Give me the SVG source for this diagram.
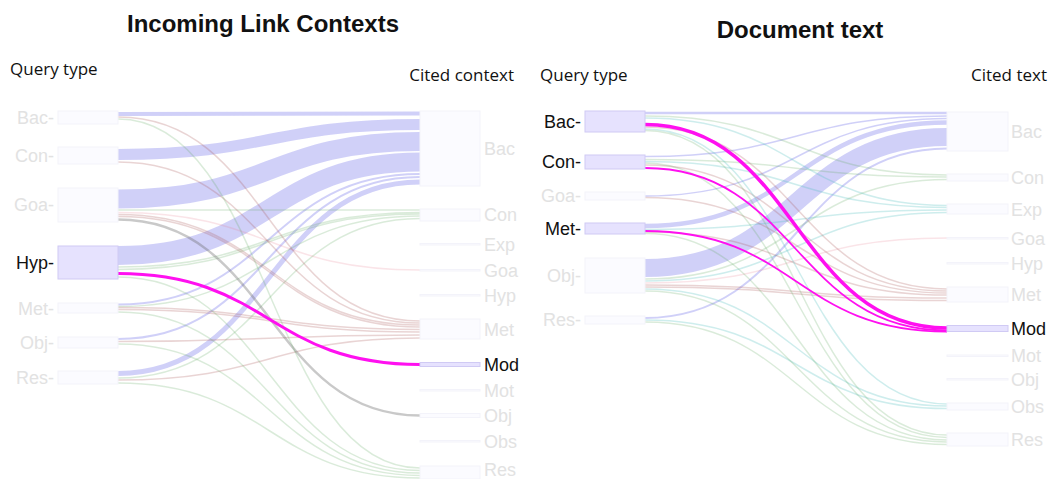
<svg xmlns="http://www.w3.org/2000/svg" width="1048" height="479" viewBox="0 0 1048 479">
<style>
.title{font-family:"Liberation Sans",Arial,sans-serif;font-weight:bold;font-size:24px;fill:#111;text-anchor:middle}
.axis{font-family:"Open Sans","Liberation Sans",sans-serif;font-size:17px;fill:#111}
.lbl{font-family:"Liberation Sans",Arial,sans-serif;font-size:18px;fill:#e2e2e2}
.on{fill:#111}
.nf{fill:#fbfbff;stroke:#f3f3fa;stroke-width:1}
.nh{fill:#e6e2fe;stroke:#d0caf4;stroke-width:1}
.f{fill:none}
.b{stroke:rgba(150,150,240,0.45)}
.g{stroke:rgba(100,170,100,0.24);stroke-width:1.5}
.r{stroke:rgba(170,90,90,0.26);stroke-width:1.5}
.p{stroke:rgba(230,120,140,0.2);stroke-width:1.5}
.t{stroke:rgba(80,190,190,0.28);stroke-width:1.5}
.k{stroke:rgba(100,100,100,0.35);stroke-width:2.5}
.m{stroke:#ff10f0}
</style>
<rect width="1048" height="479" fill="#fff"/>
<text class="title" x="263" y="32">Incoming Link Contexts</text>
<text class="title" x="800" y="38">Document text</text>
<text class="axis" x="10" y="75">Query type</text>
<text class="axis" x="514" y="81" text-anchor="end">Cited context</text>
<text class="axis" x="540" y="81">Query type</text>
<text class="axis" x="1047" y="81" text-anchor="end">Cited text</text>

<g id="connectors">
<!-- left panel -->
<g class="f">
<path class="b" stroke-width="4" d="M118,114 C269,114 269,113.5 420,113.5"/>
<path class="b" stroke-width="11" d="M118,154.5 C269,154.5 269,124.5 420,124.5"/>
<path class="b" stroke-width="19" d="M118,199 C269,199 269,141.5 420,141.5"/>
<path class="b" stroke-width="19" d="M118,255.5 C269,255.5 269,162 420,162"/>
<path class="b" stroke-width="2" d="M118,304.5 C269,304.5 269,174 420,174"/>
<path class="b" stroke-width="2" d="M118,339 C269,339 269,177 420,177"/>
<path class="b" stroke-width="5" d="M118,373.5 C269,373.5 269,182 420,182"/>
<path class="g" d="M118,210 C269,210 269,210 420,210"/>
<path class="g" d="M118,267 C269,267 269,212.5 420,212.5"/>
<path class="g" d="M118,269.5 C269,269.5 269,214 420,214"/>
<path class="g" d="M118,306.5 C269,306.5 269,216 420,216"/>
<path class="g" d="M118,378 C269,378 269,218.5 420,218.5"/>
<path class="p" d="M118,212.5 C269,212.5 269,270 420,270"/>
<path class="r" d="M118,117 C269,117 269,321 420,321"/>
<path class="r" d="M118,162 C269,162 269,323 420,323"/>
<path class="r" d="M118,214.5 C269,214.5 269,325 420,325"/>
<path class="r" d="M118,216.5 C269,216.5 269,327 420,327"/>
<path class="r" d="M118,307.5 C269,307.5 269,329.5 420,329.5"/>
<path class="r" d="M118,309.5 C269,309.5 269,332 420,332"/>
<path class="r" d="M118,341.5 C269,341.5 269,335 420,335"/>
<path class="r" d="M118,380 C269,380 269,338 420,338"/>
<path class="k" d="M118,219.5 C269,219.5 269,415.5 420,415.5"/>
<path class="g" d="M118,119 C269,119 269,468 420,468"/>
<path class="g" d="M118,277 C269,277 269,470.5 420,470.5"/>
<path class="g" d="M118,312 C269,312 269,473 420,473"/>
<path class="g" d="M118,344 C269,344 269,475.5 420,475.5"/>
<path class="g" d="M118,383 C269,383 269,478 420,478"/>
<path class="m" stroke-width="3" d="M118,273.5 C269,273.5 269,364.5 420,364.5"/>
</g>
<!-- right panel -->
<g class="f">
<path class="b" stroke-width="2.5" d="M645,113 C796,113 796,113 947,113"/>
<path class="b" stroke-width="1.5" d="M645,156.5 C796,156.5 796,116 947,116"/>
<path class="b" stroke-width="1.5" d="M645,196 C796,196 796,118.5 947,118.5"/>
<path class="b" stroke-width="4.5" d="M645,226 C796,226 796,122.5 947,122.5"/>
<path class="b" stroke-width="18" d="M645,268 C796,268 796,137 947,137"/>
<path class="b" stroke-width="2" d="M645,318 C796,318 796,148.5 947,148.5"/>
<path class="g" d="M645,116 C796,116 796,175 947,175"/>
<path class="g" d="M645,159.5 C796,159.5 796,177 947,177"/>
<path class="g" d="M645,279 C796,279 796,179.5 947,179.5"/>
<path class="t" d="M645,118 C796,118 796,205.5 947,205.5"/>
<path class="t" d="M645,161.5 C796,161.5 796,207.5 947,207.5"/>
<path class="t" d="M645,229.5 C796,229.5 796,210 947,210"/>
<path class="t" d="M645,281 C796,281 796,212.5 947,212.5"/>
<path class="p" d="M645,283 C796,283 796,238 947,238"/>
<path class="r" d="M645,127 C796,127 796,289 947,289"/>
<path class="r" d="M645,165 C796,165 796,291 947,291"/>
<path class="r" d="M645,197.5 C796,197.5 796,293 947,293"/>
<path class="r" d="M645,232 C796,232 796,295 947,295"/>
<path class="r" d="M645,285 C796,285 796,298 947,298"/>
<path class="r" d="M645,287 C796,287 796,300.5 947,300.5"/>
<path class="t" d="M645,129 C796,129 796,404 947,404"/>
<path class="t" d="M645,289 C796,289 796,406 947,406"/>
<path class="t" d="M645,320 C796,320 796,408.5 947,408.5"/>
<path class="g" d="M645,130.5 C796,130.5 796,435 947,435"/>
<path class="g" d="M645,163 C796,163 796,437.5 947,437.5"/>
<path class="g" d="M645,233.5 C796,233.5 796,440 947,440"/>
<path class="g" d="M645,291 C796,291 796,442 947,442"/>
<path class="g" d="M645,322 C796,322 796,444.5 947,444.5"/>
<path class="m" stroke-width="3.5" d="M645,124.5 C796,124.5 796,328 947,328"/>
<path class="m" stroke-width="1.8" d="M645,168 C796,168 796,330.5 947,330.5"/>
<path class="m" stroke-width="1.8" d="M645,231 C796,231 796,331.5 947,331.5"/>
</g>
</g>

<!-- left panel, left column -->
<g id="L-Bac"><rect class="nf" x="58" y="111" width="60" height="13"/><text class="lbl" x="54" y="124" text-anchor="end">Bac-</text></g>
<g id="L-Con"><rect class="nf" x="58" y="147" width="60" height="17"/><text class="lbl" x="54" y="162" text-anchor="end">Con-</text></g>
<g id="L-Goa"><rect class="nf" x="58" y="188" width="60" height="34"/><text class="lbl" x="54" y="211" text-anchor="end">Goa-</text></g>
<g id="L-Hyp"><rect class="nh" x="58" y="246" width="60" height="33"/><text class="lbl on" x="54" y="269" text-anchor="end">Hyp-</text></g>
<g id="L-Met"><rect class="nf" x="58" y="303" width="60" height="10"/><text class="lbl" x="54" y="315" text-anchor="end">Met-</text></g>
<g id="L-Obj"><rect class="nf" x="58" y="337" width="60" height="11"/><text class="lbl" x="54" y="349" text-anchor="end">Obj-</text></g>
<g id="L-Res"><rect class="nf" x="58" y="371" width="60" height="13"/><text class="lbl" x="54" y="384" text-anchor="end">Res-</text></g>
<!-- left panel, right column -->
<g id="LC-Bac"><rect class="nf" x="420" y="111" width="60" height="75"/><text class="lbl" x="484" y="155">Bac</text></g>
<g id="LC-Con"><rect class="nf" x="420" y="209" width="60" height="12"/><text class="lbl" x="484" y="221">Con</text></g>
<g id="LC-Exp"><rect class="nf" x="420" y="243.5" width="60" height="1.5"/><text class="lbl" x="484" y="251">Exp</text></g>
<g id="LC-Goa"><rect class="nf" x="420" y="269.5" width="60" height="1.5"/><text class="lbl" x="484" y="277">Goa</text></g>
<g id="LC-Hyp"><rect class="nf" x="420" y="294.5" width="60" height="1.5"/><text class="lbl" x="484" y="302">Hyp</text></g>
<g id="LC-Met"><rect class="nf" x="420" y="319" width="60" height="20"/><text class="lbl" x="484" y="336">Met</text></g>
<g id="LC-Mod"><rect class="nh" x="420" y="362.5" width="60" height="4"/><text class="lbl on" x="484" y="371">Mod</text></g>
<g id="LC-Mot"><rect class="nf" x="420" y="389.5" width="60" height="1.5"/><text class="lbl" x="484" y="397">Mot</text></g>
<g id="LC-Obj"><rect class="nf" x="420" y="413.5" width="60" height="4"/><text class="lbl" x="484" y="422">Obj</text></g>
<g id="LC-Obs"><rect class="nf" x="420" y="440.5" width="60" height="1.5"/><text class="lbl" x="484" y="448">Obs</text></g>
<g id="LC-Res"><rect class="nf" x="420" y="466" width="60" height="13"/><text class="lbl" x="484" y="476">Res</text></g>

<!-- right panel, left column -->
<g id="R-Bac"><rect class="nh" x="585" y="111" width="60" height="21"/><text class="lbl on" x="581" y="128" text-anchor="end">Bac-</text></g>
<g id="R-Con"><rect class="nh" x="585" y="155" width="60" height="14"/><text class="lbl on" x="581" y="168" text-anchor="end">Con-</text></g>
<g id="R-Goa"><rect class="nf" x="585" y="192" width="60" height="8"/><text class="lbl" x="581" y="202" text-anchor="end">Goa-</text></g>
<g id="R-Met"><rect class="nh" x="585" y="223" width="60" height="11"/><text class="lbl on" x="581" y="235" text-anchor="end">Met-</text></g>
<g id="R-Obj"><rect class="nf" x="585" y="258" width="60" height="35"/><text class="lbl" x="581" y="282" text-anchor="end">Obj-</text></g>
<g id="R-Res"><rect class="nf" x="585" y="316" width="60" height="8"/><text class="lbl" x="581" y="326" text-anchor="end">Res-</text></g>
<!-- right panel, right column -->
<g id="RC-Bac"><rect class="nf" x="947" y="112" width="61" height="39"/><text class="lbl" x="1011" y="138">Bac</text></g>
<g id="RC-Con"><rect class="nf" x="947" y="174" width="61" height="7"/><text class="lbl" x="1011" y="184">Con</text></g>
<g id="RC-Exp"><rect class="nf" x="947" y="204" width="61" height="10"/><text class="lbl" x="1011" y="216">Exp</text></g>
<g id="RC-Goa"><rect class="nf" x="947" y="237.5" width="61" height="1.5"/><text class="lbl" x="1011" y="245">Goa</text></g>
<g id="RC-Hyp"><rect class="nf" x="947" y="262.5" width="61" height="1.5"/><text class="lbl" x="1011" y="270">Hyp</text></g>
<g id="RC-Met"><rect class="nf" x="947" y="287" width="61" height="15"/><text class="lbl" x="1011" y="301">Met</text></g>
<g id="RC-Mod"><rect class="nh" x="947" y="325.5" width="61" height="6"/><text class="lbl on" x="1011" y="335">Mod</text></g>
<g id="RC-Mot"><rect class="nf" x="947" y="355" width="61" height="1.5"/><text class="lbl" x="1011" y="362">Mot</text></g>
<g id="RC-Obj"><rect class="nf" x="947" y="378.5" width="61" height="1.5"/><text class="lbl" x="1011" y="386">Obj</text></g>
<g id="RC-Obs"><rect class="nf" x="947" y="403" width="61" height="7"/><text class="lbl" x="1011" y="413">Obs</text></g>
<g id="RC-Res"><rect class="nf" x="947" y="433" width="61" height="13"/><text class="lbl" x="1011" y="446">Res</text></g>
</svg>
